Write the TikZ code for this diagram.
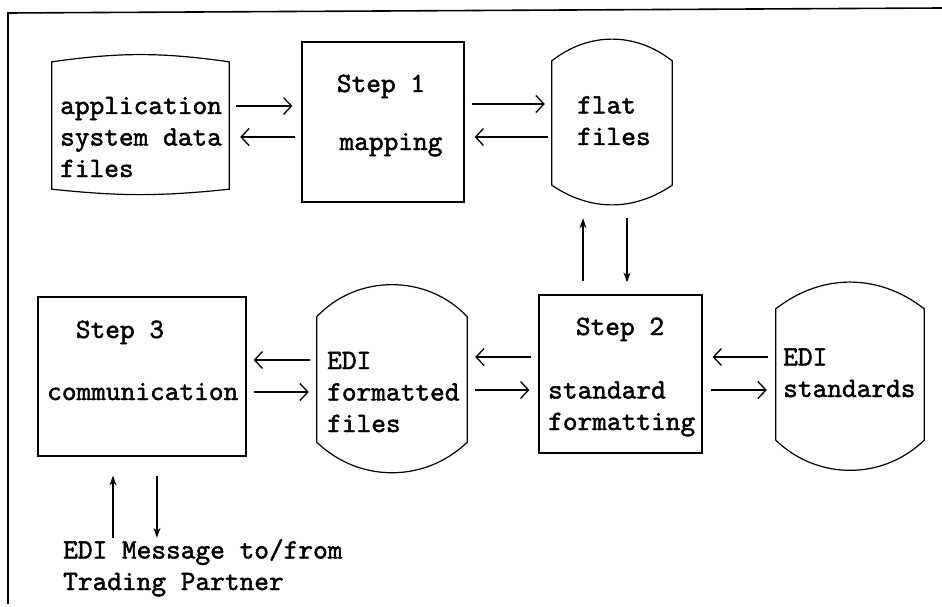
\documentclass[tikz,border=0pt]{standalone}
\usepackage{fontspec}
\newfontfamily\typed[FakeBold=1.6]{lmmono10-regular.otf}
\usepackage{tikz}
\usetikzlibrary{arrows.meta,calc}

\begin{document}
\begin{tikzpicture}[
    x=1pt, y=-1pt,
    stepbox/.style={rectangle, draw=black, line width=1.2pt, inner sep=0pt},
    filebox/.style={rectangle, draw=none, inner sep=0pt},
    filecurve/.style={draw=black, line width=1.2pt},
    lbl/.style={inner sep=0pt, align=left, font=\typed\fontsize{28}{31.5}\selectfont},
    arrow/.style={-{Straight Barb[length=8pt,width=17pt,line width=1.3pt]}, line width=1.3pt},
    varrow/.style={-{Stealth[length=10pt,width=7pt]}, line width=1.3pt}
]
\useasboundingbox (0,0) rectangle (942,607);
\draw[line width=1.6pt] (8,604) -- (8,13) -- (942,8);

\node[filebox, minimum width=177pt, minimum height=127pt] (app) at (140.5,125.5) {};
\node[stepbox, minimum width=162pt, minimum height=160pt] (step1) at (383,122) {};
\node[filebox, minimum width=120pt, minimum height=124pt] (flat) at (612,123) {};
\node[stepbox, minimum width=208pt, minimum height=159pt] (step3) at (142,376.5) {};
\node[filebox, minimum width=150pt, minimum height=125pt] (fmt) at (392,379.5) {};
\node[stepbox, minimum width=163pt, minimum height=158pt] (step2) at (620.5,374) {};
\node[filebox, minimum width=148pt, minimum height=131pt] (stds) at (850,374.5) {};

\foreach \n/\t/\b in {app/8/6, flat/38/34, fmt/47/44, stds/38/44}
    \draw[filecurve] (\n.north west) to[bend left=\t] (\n.north east) -- (\n.south east) to[bend left=\b] (\n.south west) -- cycle;

\node[lbl, anchor=base west] (apptext) at (60,177) {application\\system data\\files};
\node[lbl, anchor=base] (s1title) at (381,92) {Step 1};
\node[lbl, anchor=base] (s1text) at (391,150) {mapping};
\node[lbl, anchor=base west] (flattext) at (577,145) {flat\\files};
\node[lbl, anchor=base] (s2title) at (620,335) {Step 2};
\node[lbl, anchor=base west] (s2text) at (548,430) {standard\\formatting};
\node[lbl, anchor=base west] (stdtext) at (783,397) {EDI\\standards};
\node[lbl, anchor=base] (s3title) at (120,338) {Step 3};
\node[lbl, anchor=base west] (s3text) at (47,400) {communication};
\node[lbl, anchor=base west] (fmttext) at (327,432) {EDI\\formatted\\files};
\node[lbl, anchor=base west] (msg) at (63,590) {EDI Message to/from\\Trading Partner};

\draw[arrow, shorten <=7pt, shorten >=9pt] ([yshift=16pt]step1.west -| app.east) -- ([yshift=16pt]step1.west);
\draw[arrow, shorten <=6pt, shorten >=11pt] ([yshift=-15pt]step1.west) -- ([yshift=-15pt]step1.west -| app.east);
\draw[arrow, shorten <=7pt, shorten >=7pt] ([yshift=18pt]step1.east) -- ([yshift=18pt]step1.east -| flat.west);
\draw[arrow, shorten <=4pt, shorten >=10pt] ([yshift=-15pt]step1.east -| flat.west) -- ([yshift=-15pt]step1.east);

\draw[varrow, shorten <=13pt, shorten >=33pt] ([xshift=-37.5pt]step2.north) -- ([xshift=-37.5pt]step2.north |- flat.south);
\draw[varrow, shorten <=33pt, shorten >=12pt] ([xshift=6.5pt]step2.north |- flat.south) -- ([xshift=6.5pt]step2.north);

\draw[arrow, shorten <=7pt, shorten >=8pt] ([yshift=17pt]step2.west) -- ([yshift=17pt]step2.west -| fmt.east);
\draw[arrow, shorten <=8pt, shorten >=9pt] ([yshift=-16pt]step2.west -| fmt.east) -- ([yshift=-16pt]step2.west);
\draw[arrow, shorten <=8pt, shorten >=10pt] ([yshift=17pt]step2.east -| stds.west) -- ([yshift=17pt]step2.east);
\draw[arrow, shorten <=8pt, shorten >=9pt] ([yshift=-16pt]step2.east) -- ([yshift=-16pt]step2.east -| stds.west);

\draw[arrow, shorten <=7pt, shorten >=7pt] ([yshift=16.5pt]step3.east -| fmt.west) -- ([yshift=16.5pt]step3.east);
\draw[arrow, shorten <=7pt, shorten >=8pt] ([yshift=-15.5pt]step3.east) -- ([yshift=-15.5pt]step3.east -| fmt.west);

\draw[varrow, shorten <=1pt, shorten >=19pt] ([xshift=-29pt]step3.south |- msg.north) -- ([xshift=-29pt]step3.south);
\draw[varrow, shorten <=19pt, shorten >=1pt] ([xshift=15pt]step3.south) -- ([xshift=15pt]step3.south |- msg.north);
\end{tikzpicture}
\end{document}
